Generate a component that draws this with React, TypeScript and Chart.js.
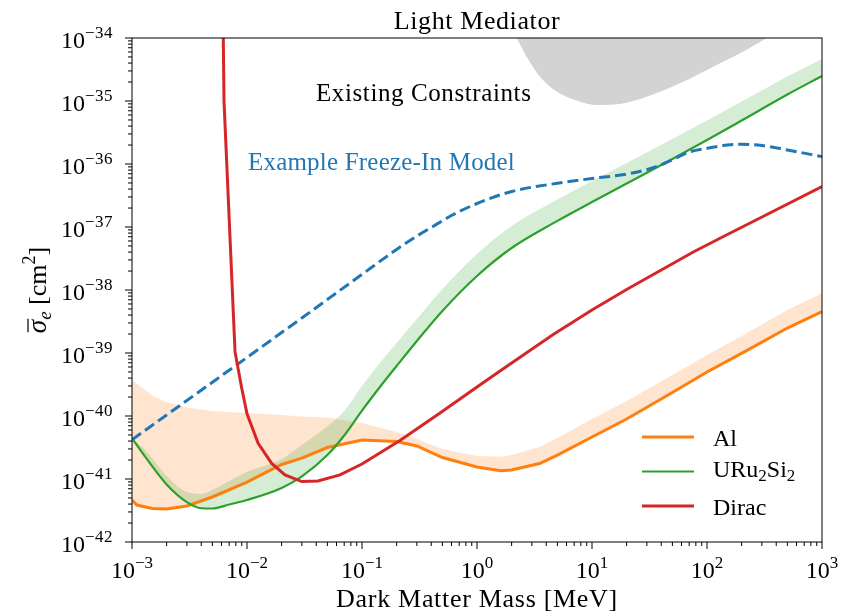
import React, { useEffect, useRef } from 'react';
import { Chart, registerables } from 'chart.js';

Chart.register(...registerables);

// ---------------- data ----------------
const xTickExponents = [-3, -2, -1, 0, 1, 2, 3];
const yTickExponents = [-42, -41, -40, -39, -38, -37, -36, -35, -34];

// Al (orange) — line and upper edge of its band, same masses [MeV]
const alMass = [1e-3, 1.1e-3, 1.5e-3, 2e-3, 3e-3, 5e-3, 1e-2, 2e-2, 3e-2, 5e-2, 1e-1, 2e-1, 3e-1, 5e-1, 1, 1.6, 2, 3.5, 5, 10, 20, 50, 100, 200, 500, 1000];
const alSigma = [4.64e-42, 3.86e-42, 3.4e-42, 3.34e-42, 3.73e-42, 5.18e-42, 8.95e-42, 1.7e-41, 2.15e-41, 3.16e-41, 4.16e-41, 3.94e-41, 3.34e-41, 2.19e-41, 1.55e-41, 1.35e-41, 1.39e-41, 1.76e-41, 2.4e-41, 4.64e-41, 8.95e-41, 2.36e-40, 4.99e-40, 9.88e-40, 2.49e-39, 4.53e-39];
const alBandUpper = [3.73e-40, 3.28e-40, 2.12e-40, 1.66e-40, 1.36e-40, 1.2e-40, 1.12e-40, 1.04e-40, 9.8e-41, 9.5e-41, 7.75e-41, 5.57e-41, 4.31e-41, 2.99e-41, 2.32e-41, 2.26e-41, 2.4e-41, 3.22e-41, 4.48e-41, 8.95e-41, 1.73e-40, 4.48e-40, 9.29e-40, 1.86e-39, 4.82e-39, 8.87e-39];

// URu2Si2 (green)
const uruMass = [1e-3, 1.3e-3, 2e-3, 3e-3, 4e-3, 5e-3, 7e-3, 1e-2, 2e-2, 3e-2, 5e-2, 7e-2, 1e-1, 1.5e-1, 2e-1, 3e-1, 5e-1, 1, 2, 5, 10, 20, 50, 100, 200, 500, 1000];
const uruSigma = [4.43e-41, 2.26e-41, 8.2e-42, 4.3e-42, 3.43e-42, 3.4e-42, 3.94e-42, 4.64e-42, 7.2e-42, 1.1e-41, 2.4e-41, 4.9e-41, 1.22e-40, 3.22e-40, 6.22e-40, 1.55e-39, 4.65e-39, 1.67e-38, 4.64e-38, 1.25e-37, 2.49e-37, 4.9e-37, 1.2e-36, 2.4e-36, 4.9e-36, 1.27e-35, 2.49e-35];
const uruBandUpper = [4.43e-41, 2.88e-41, 1.12e-41, 6.2e-42, 5.8e-42, 6.7e-42, 9.3e-42, 1.29e-41, 2.07e-41, 3.47e-41, 6.9e-41, 1.2e-40, 2.99e-40, 7.74e-40, 1.44e-39, 3.47e-39, 1.04e-38, 3.73e-38, 1.04e-37, 2.73e-37, 5.37e-37, 1.04e-36, 2.49e-36, 4.9e-36, 9.82e-36, 2.45e-35, 4.64e-35];

// Dirac (red)
const diracMass = [6.22e-3, 6.31e-3, 7.87e-3, 8.99e-3, 1e-2, 1.25e-2, 1.64e-2, 2.14e-2, 3e-2, 4.14e-2, 6.44e-2, 0.1, 0.214, 0.477, 1, 1.585, 4.6, 10, 20, 76, 139, 289, 1000];
const diracSigma = [1e-34, 1e-35, 1.04e-39, 2.78e-40, 1.08e-40, 3.69e-41, 1.77e-41, 1.16e-41, 9.1e-42, 9.3e-42, 1.16e-41, 1.73e-41, 4.08e-41, 1.12e-40, 2.88e-40, 5.18e-40, 1.97e-39, 4.82e-39, 1.02e-38, 4.01e-38, 7.06e-38, 1.39e-37, 4.37e-37];

// Example freeze-in model (blue dashed)
const fiMass = [1e-3, 1e-2, 3e-2, 1e-1, 2e-1, 3e-1, 4e-1, 0.6, 1, 2, 5, 10, 20, 35, 50, 70, 100, 150, 200, 300, 500, 1000];
const fiSigma = [4.2e-41, 8.5e-40, 3.6e-39, 1.77e-38, 4.4e-38, 7.18e-38, 9.82e-38, 1.52e-37, 2.36e-37, 3.66e-37, 4.95e-37, 5.89e-37, 6.93e-37, 8.87e-37, 1.17e-36, 1.55e-36, 1.77e-36, 2.0e-36, 2.06e-36, 1.97e-36, 1.67e-36, 1.31e-36];

// Existing constraints (grey region, filled to the top)
const excMass = [2.21, 2.7, 3.53, 4.93, 7.87, 11.0, 17.5, 29.9, 58.2, 113.5, 194, 330];
const excSigma = [1e-34, 5.05e-35, 2.43e-35, 1.41e-35, 9.75e-36, 8.65e-36, 8.96e-36, 1.17e-35, 1.91e-35, 3.5e-35, 5.71e-35, 1e-34];

const titleText = 'Light Mediator';
const xTitle = 'Dark Matter Mass [MeV]';
const constraintsLabel = 'Existing Constraints';
const freezeInLabel = 'Example Freeze-In Model';

const C = {
  blue: '#1f77b4',
  orange: '#ff7f0e',
  green: '#2ca02c',
  red: '#d62728',
  grey: '#d3d3d3',
};

const FONT = '"Liberation Serif", "Times New Roman", serif';

const pts = (xs: number[], ys: number[]) => xs.map((x, i) => ({ x, y: ys[i] }));

type Run = { text: string; size: number; dy?: number; italic?: boolean; ls?: number };

function fontOf(r: Run) {
  return `${r.italic ? 'italic ' : ''}${r.size}px ${FONT}`;
}

function drawRuns(ctx: any, runs: Run[], x: number, y: number, align: 'left' | 'center' | 'right') {
  const widths = runs.map((r) => {
    ctx.font = fontOf(r);
    ctx.letterSpacing = `${r.ls ?? 0}px`;
    return ctx.measureText(r.text).width;
  });
  const total = widths.reduce((a, b) => a + b, 0);
  let cx = align === 'left' ? x : align === 'center' ? x - total / 2 : x - total;
  const start = cx;
  ctx.textAlign = 'left';
  ctx.textBaseline = 'alphabetic';
  runs.forEach((r, i) => {
    ctx.font = fontOf(r);
    ctx.letterSpacing = `${r.ls ?? 0}px`;
    ctx.fillText(r.text, cx, y + (r.dy ?? 0));
    cx += widths[i];
  });
  ctx.letterSpacing = '0px';
  return { start, widths, total };
}

const expText = (e: number) => (e < 0 ? '\u2212' + Math.abs(e) : String(e));

const decorPlugin = {
  id: 'decor',
  afterDraw(chart: any) {
    const { ctx, chartArea: a, scales } = chart;
    const xs = scales.x;
    const ys = scales.y;
    ctx.save();
    ctx.fillStyle = '#000';
    ctx.strokeStyle = '#000';
    ctx.lineWidth = 1;
    ctx.strokeRect(a.left, a.top, a.right - a.left, a.bottom - a.top);

    // ticks
    ctx.beginPath();
    const xe0 = xTickExponents[0];
    const xe1 = xTickExponents[xTickExponents.length - 1];
    for (let e = xe0; e <= xe1; e++) {
      const p = xs.getPixelForValue(Math.pow(10, e));
      ctx.moveTo(p, a.bottom);
      ctx.lineTo(p, a.bottom + 7);
      if (e < xe1) {
        for (let k = 2; k <= 9; k++) {
          const q = xs.getPixelForValue(k * Math.pow(10, e));
          ctx.moveTo(q, a.bottom);
          ctx.lineTo(q, a.bottom + 4);
        }
      }
    }
    const ye0 = yTickExponents[0];
    const ye1 = yTickExponents[yTickExponents.length - 1];
    for (let e = ye0; e <= ye1; e++) {
      const p = ys.getPixelForValue(Math.pow(10, e));
      ctx.moveTo(a.left, p);
      ctx.lineTo(a.left - 7, p);
      if (e < ye1) {
        for (let k = 2; k <= 9; k++) {
          const q = ys.getPixelForValue(k * Math.pow(10, e));
          ctx.moveTo(a.left, q);
          ctx.lineTo(a.left - 4, q);
        }
      }
    }
    ctx.stroke();

    // tick labels
    xTickExponents.forEach((e) => {
      const p = xs.getPixelForValue(Math.pow(10, e));
      drawRuns(ctx, [
        { text: '10', size: 24 },
        { text: expText(e), size: 17, dy: -10 },
      ], p, a.bottom + 36, 'center');
    });
    yTickExponents.forEach((e) => {
      const p = ys.getPixelForValue(Math.pow(10, e));
      drawRuns(ctx, [
        { text: '10', size: 24 },
        { text: expText(e), size: 17, dy: -10, ls: 0.5 },
      ], 113, p + 10, 'right');
    });

    // title and axis titles
    drawRuns(ctx, [{ text: titleText, size: 26, ls: 0.6 }], (a.left + a.right) / 2, 29, 'center');
    drawRuns(ctx, [{ text: xTitle, size: 26, ls: 0.7 }], (a.left + a.right) / 2, 607, 'center');

    // y title, rotated
    ctx.save();
    ctx.translate(46, (a.top + a.bottom) / 2);
    ctx.rotate(-Math.PI / 2);
    const yr = drawRuns(ctx, [
      { text: '\u03c3', size: 27, italic: true },
      { text: 'e', size: 19, italic: true, dy: 5 },
      { text: ' [cm', size: 26 },
      { text: '2', size: 18, dy: -11 },
      { text: ']', size: 26 },
    ], 0, 0, 'center');
    ctx.beginPath();
    ctx.lineWidth = 1.2;
    ctx.moveTo(yr.start + 1, -18);
    ctx.lineTo(yr.start + yr.widths[0] + 1, -18);
    ctx.stroke();
    ctx.restore();

    // annotations
    drawRuns(ctx, [{ text: constraintsLabel, size: 25, ls: 0.6 }], 316, 101, 'left');
    ctx.fillStyle = C.blue;
    drawRuns(ctx, [{ text: freezeInLabel, size: 25, ls: 0.2 }], 248, 170, 'left');

    // legend
    const legend = [
      { color: C.orange, width: 3, y: 437, base: 446, runs: [{ text: 'Al', size: 24 }] as Run[] },
      {
        color: C.green, width: 2.2, y: 471.5, base: 477,
        runs: [
          { text: 'URu', size: 24 },
          { text: '2', size: 17, dy: 4 },
          { text: 'Si', size: 24 },
          { text: '2', size: 17, dy: 4 },
        ] as Run[],
      },
      { color: C.red, width: 3, y: 506, base: 515, runs: [{ text: 'Dirac', size: 24 }] as Run[] },
    ];
    legend.forEach((l) => {
      ctx.beginPath();
      ctx.strokeStyle = l.color;
      ctx.lineWidth = l.width;
      ctx.moveTo(642, l.y);
      ctx.lineTo(694, l.y);
      ctx.stroke();
      ctx.fillStyle = '#000';
      drawRuns(ctx, l.runs, 713, l.base, 'left');
    });
    ctx.restore();
  },
};

export default function App() {
  const ref = useRef<HTMLCanvasElement | null>(null);
  useEffect(() => {
    if (!ref.current) return;
    const lineBase = { pointRadius: 0, pointHoverRadius: 0, cubicInterpolationMode: 'monotone' as const, fill: false };
    const chart = new Chart(ref.current, {
      type: 'line',
      data: {
        datasets: [
          { ...lineBase, label: 'Dirac', data: pts(diracMass, diracSigma), borderColor: C.red, borderWidth: 3, cubicInterpolationMode: 'default', tension: 0, order: 0 },
          { ...lineBase, label: freezeInLabel, data: pts(fiMass, fiSigma), borderColor: C.blue, borderWidth: 3, borderDash: [11, 5], order: 1 },
          { ...lineBase, label: 'URu2Si2', data: pts(uruMass, uruSigma), borderColor: C.green, borderWidth: 2.2, order: 2 },
          { ...lineBase, label: 'Al', data: pts(alMass, alSigma), borderColor: C.orange, borderWidth: 3, cubicInterpolationMode: 'default', tension: 0, order: 3 },
          { ...lineBase, label: 'URu2Si2 band', data: pts(uruMass, uruBandUpper), borderColor: 'rgba(0,0,0,0)', borderWidth: 0, backgroundColor: 'rgba(44,160,44,0.2)', fill: { target: 2 }, order: 4 },
          { ...lineBase, label: 'Al band', data: pts(alMass, alBandUpper), borderColor: 'rgba(0,0,0,0)', borderWidth: 0, backgroundColor: 'rgba(255,127,14,0.2)', fill: { target: 3 }, cubicInterpolationMode: 'default', tension: 0, order: 5 },
          { ...lineBase, label: constraintsLabel, data: pts(excMass, excSigma), borderColor: 'rgba(0,0,0,0)', borderWidth: 0, backgroundColor: C.grey, fill: 'end', order: 6 },
        ],
      },
      options: {
        animation: false,
        responsive: false,
        devicePixelRatio: 1,
        events: [],
        layout: { padding: { top: 38, right: 34, left: 0, bottom: 0 } },
        plugins: { legend: { display: false }, tooltip: { enabled: false }, title: { display: false } },
        scales: {
          x: {
            type: 'logarithmic', min: 1e-3, max: 1e3,
            ticks: { display: false }, grid: { display: false }, border: { display: false },
            afterFit: (s: any) => { s.height = 72; },
          },
          y: {
            type: 'logarithmic', min: 1e-42, max: 1e-34,
            ticks: { display: false }, grid: { display: false }, border: { display: false },
            afterFit: (s: any) => { s.width = 132; },
          },
        },
      },
      plugins: [decorPlugin],
    } as any);
    return () => chart.destroy();
  }, []);
  return (
    <div style={{ position: 'absolute', left: 0, top: 0, width: 856, height: 614, background: '#fff' }}>
      <canvas ref={ref} width={856} height={614} style={{ display: 'block', width: 856, height: 614 }} />
    </div>
  );
}
